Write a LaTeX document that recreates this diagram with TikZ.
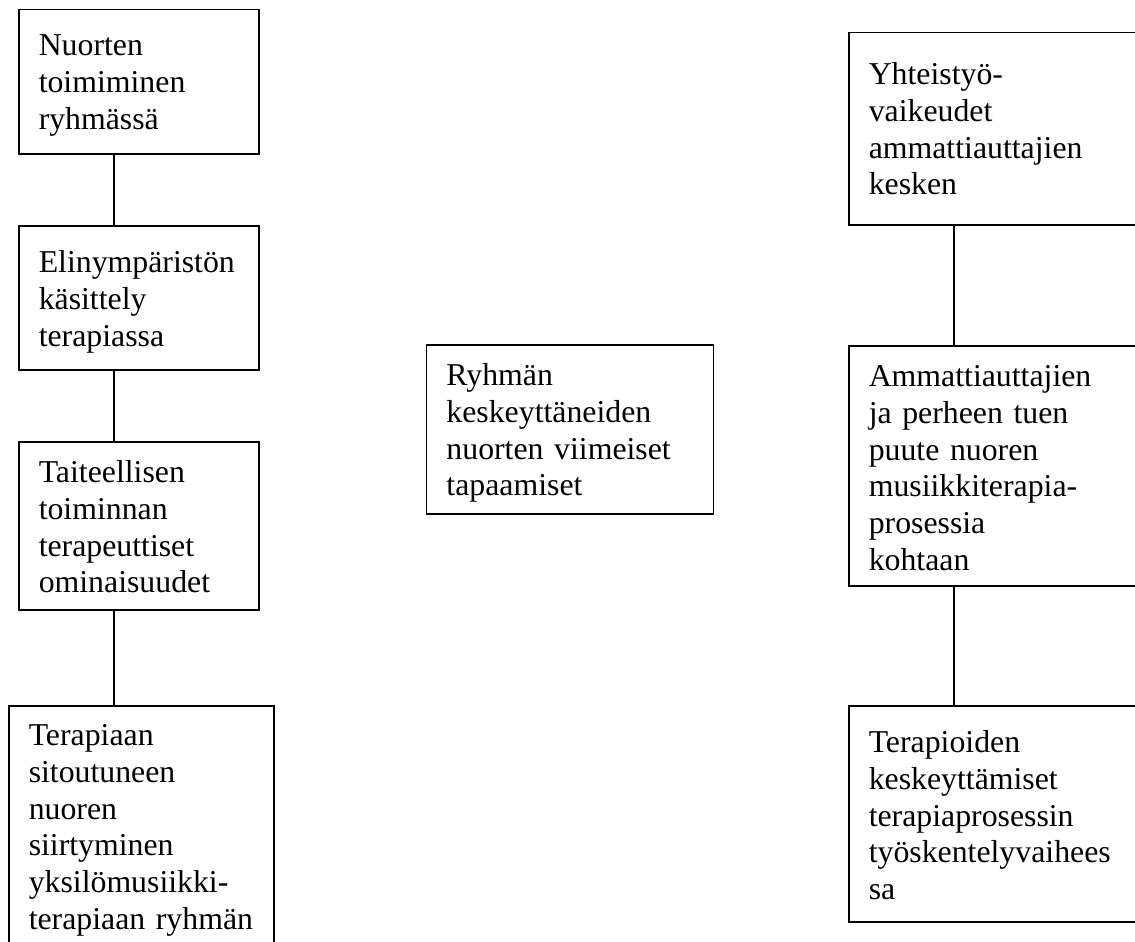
\documentclass[tikz,border=0pt]{standalone}
\usepackage{fontspec}
\setmainfont{Liberation Serif}
\tikzset{
  box/.style={draw=black, line width=1.5pt, anchor=north west, inner xsep=20pt, inner ysep=0pt,
    align=left, font=\fontsize{31.8}{36.7}\selectfont},
  link/.style={draw=black, line width=1.5pt}
}
\begin{document}
\begin{tikzpicture}[x=1pt,y=-1pt]
\clip (0,0) rectangle (1135,942);
\fill[white] (0,0) rectangle (1135,942);
% left column
\node[box, text width=200pt, text height=46pt, text depth=98pt] (l1) at (18,9)
  {Nuorten\\toimiminen\\ryhmässä};
\node[box, text width=200pt, text height=47pt, text depth=97pt] (l2) at (18,225)
  {Elinympäristön\\käsittely\\terapiassa};
\node[box, text width=200pt, text height=41pt, text depth=127pt] (l3) at (18,441)
  {Taiteellisen\\toiminnan\\terapeuttiset\\ominaisuudet};
\node[box, text width=225pt, text height=40pt, text depth=260pt] (l4) at (8,705)
  {Terapiaan\\sitoutuneen\\nuoren\\siirtyminen\\yksilömusiikki-\\\mbox{terapiaan ryhmän}};
% middle
\node[box, text width=247pt, text height=41pt, text depth=128pt] (m1) at (425.7,344)
  {Ryhmän\\keskeyttäneiden\\nuorten viimeiset\\tapaamiset};
% right column
\node[box, text width=262pt, text height=52pt, text depth=140pt] (r1) at (848,32)
  {Yhteistyö-\\vaikeudet\\ammattiauttajien\\kesken};
\node[box, text width=262pt, text height=41pt, text depth=199pt] (r2) at (848,345)
  {Ammattiauttajien\\ja perheen tuen\\puute nuoren\\musiikkiterapia-\\prosessia\\kohtaan};
\node[box, text width=262pt, text height=47pt, text depth=169pt] (r3) at (848,705)
  {Terapioiden\\keskeyttämiset\\terapiaprosessin\\työskentelyvaihees\\sa};
% connectors
\draw[link] ([xshift=96pt]l1.south west) -- ([xshift=96pt]l2.north west);
\draw[link] ([xshift=96pt]l2.south west) -- ([xshift=96pt]l3.north west);
\draw[link] ([xshift=96pt]l3.south west) -- ([xshift=106pt]l4.north west);
\draw[link] ([xshift=106pt]r1.south west) -- ([xshift=106pt]r2.north west);
\draw[link] ([xshift=106pt]r2.south west) -- ([xshift=106pt]r3.north west);
\end{tikzpicture}
\end{document}
